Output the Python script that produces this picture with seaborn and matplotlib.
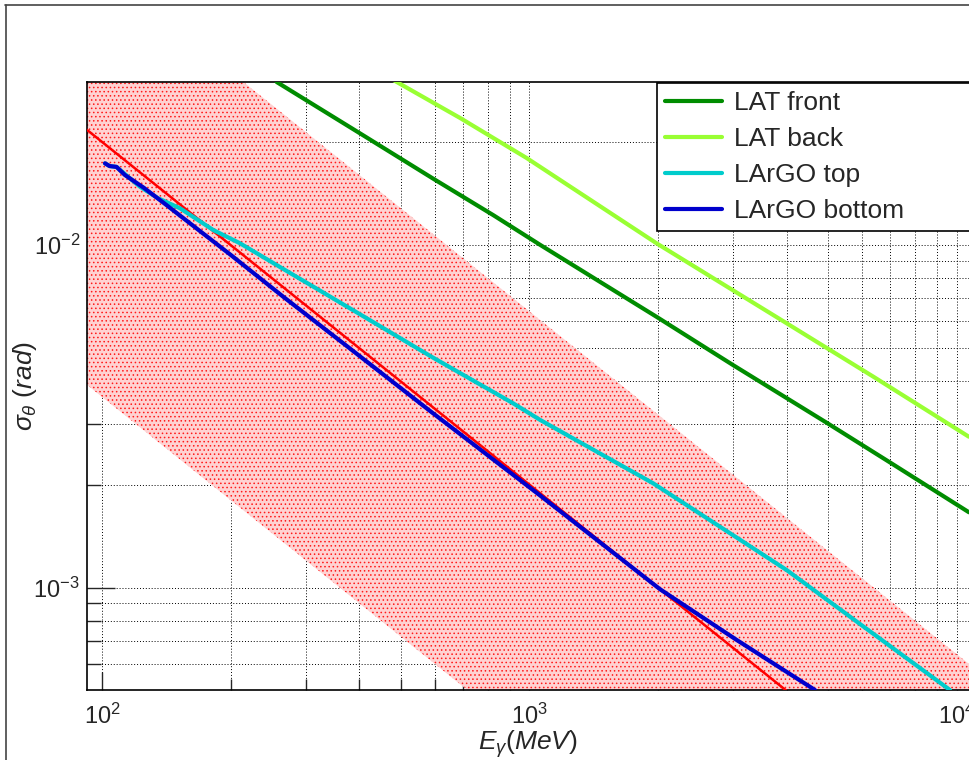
import numpy as np
import pandas as pd
import matplotlib
matplotlib.use("Agg")
import matplotlib.pyplot as plt
import seaborn as sns
from matplotlib.lines import Line2D
from matplotlib.ticker import LogLocator, NullFormatter

# values (energy in MeV, sigma in rad)
lat_front_E = [256, 401, 595, 823, 1058, 1985, 2999, 4962, 6983, 10685]
lat_front_sig = [0.0299, 0.02118, 0.01562, 0.01222, 0.01002, 0.00617,
                 0.00446, 0.00303, 0.00232, 0.00166]

lat_back_E = [480, 688, 985, 1985, 4000, 6379, 10680]
lat_back_sig = [0.0303, 0.02348, 0.01794, 0.01011, 0.00591, 0.00413, 0.002758]

largo_top_E = [101.5, 104, 108, 113, 122.5, 135, 152, 181.9, 210, 275, 301, 401,
               595, 916.5, 1058, 1949, 4000, 5728, 9645]
largo_top_sig = [0.01731, 0.01700, 0.01690, 0.01610, 0.0148, 0.0137, 0.0128,
                 0.01106, 0.01012, 0.00829, 0.00776, 0.00628, 0.00469, 0.00345,
                 0.00309, 0.002016, 0.001126, 0.00081, 0.000503]

largo_bot_E = [101.5, 104, 108, 113, 125, 140, 160, 200, 265, 373, 585, 1058,
               2021, 3055, 4659]
largo_bot_sig = [0.01731, 0.01700, 0.01690, 0.01600, 0.01470, 0.01320, 0.01160,
                 0.00935, 0.00707, 0.00508, 0.00328, 0.00186, 0.00099, 0.000704,
                 0.000503]

# red reference line and shaded band
ref_E = [92, 4000]
ref_sig = [0.0217, 0.0005]
band_E = [90, 11000]
band_low = [0.0040, 3.27e-5]
band_high = [0.0711, 5.82e-4]

series = [
    ("LAT front", lat_front_E, lat_front_sig, "#008c00"),
    ("LAT back", lat_back_E, lat_back_sig, "#99ff33"),
    ("LArGO top", largo_top_E, largo_top_sig, "#00cccc"),
    ("LArGO bottom", largo_bot_E, largo_bot_sig, "#0000cc"),
]

sns.set_style("white")
plt.rcParams["font.family"] = ["Liberation Sans", "DejaVu Sans"]
plt.rcParams["mathtext.fontset"] = "custom"
plt.rcParams["mathtext.rm"] = "Liberation Sans"
plt.rcParams["mathtext.it"] = "Liberation Sans:italic"
plt.rcParams["mathtext.sf"] = "Liberation Sans"
plt.rcParams["hatch.linewidth"] = 0.6

fig = plt.figure(figsize=(9.69, 7.6), dpi=100)
ax = fig.add_axes([87 / 969, 70 / 760, 882 / 969, 608 / 760])

ax.set_xscale("log")
ax.set_yscale("log")

ax.fill_between(band_E, band_low, band_high, facecolor="#ffd2d2",
                edgecolor="#ff1a1a", hatch="....", linewidth=0, zorder=1)

sns.lineplot(x=ref_E, y=ref_sig, ax=ax, color="red", lw=1.8, legend=False, zorder=3)

for name, e, s, c in series:
    df = pd.DataFrame({"E": e, "sigma": s})
    sns.lineplot(data=df, x="E", y="sigma", ax=ax, color=c, lw=3.0,
                 sort=False, estimator=None, label=name, zorder=4)

ax.set_xlim(92.1, 10687)
ax.set_ylim(5.03e-4, 0.0299)

ax.xaxis.set_major_locator(LogLocator(base=10))
ax.xaxis.set_minor_locator(LogLocator(base=10, subs=np.arange(2, 10)))
ax.yaxis.set_major_locator(LogLocator(base=10))
ax.yaxis.set_minor_locator(LogLocator(base=10, subs=np.arange(2, 10)))
ax.xaxis.set_minor_formatter(NullFormatter())
ax.yaxis.set_minor_formatter(NullFormatter())

ax.grid(True, which="both", color="black", linestyle=(0, (1, 2)), linewidth=0.7)

ax.tick_params(axis="x", which="major", direction="in", length=13, width=1,
               labelsize=17, pad=10, top=False, bottom=True)
ax.tick_params(axis="x", which="minor", direction="in", length=8, width=1,
               top=False, bottom=True)
ax.tick_params(axis="y", which="major", direction="in", length=20, width=1,
               labelsize=17, pad=5, left=True, right=False)
ax.tick_params(axis="y", which="minor", direction="in", length=10, width=1,
               left=True, right=False)

for side in ["left", "bottom", "top"]:
    ax.spines[side].set_color("black")
    ax.spines[side].set_linewidth(1.2)
ax.spines["right"].set_visible(False)

ax.set_xlabel(r"$E_{\gamma}(MeV)$", fontsize=19, va="center")
ax.set_ylabel(r"$\sigma_{\theta}\ (rad)$", fontsize=19, va="center")
ax.xaxis.set_label_coords(0.5, -0.089)
ax.yaxis.set_label_coords(-0.07, 0.5)

leg = ax.legend(loc="upper left", bbox_to_anchor=(0.646, 0.0, 0.45, 0.9985),
                mode="expand", fontsize=19, frameon=True, fancybox=False,
                framealpha=1, edgecolor="black", handlelength=2.16,
                handletextpad=0.45, labelspacing=0.46, borderpad=0.3,
                borderaxespad=0)
leg.get_frame().set_linewidth(1.2)
for h in leg.get_lines():
    h.set_linewidth(3.0)

# canvas border
fig.add_artist(Line2D([5 / 969, 1], [1 - 5 / 760, 1 - 5 / 760],
                      transform=fig.transFigure, color="#444444", lw=1.2))
fig.add_artist(Line2D([5.5 / 969, 5.5 / 969], [0, 1 - 5 / 760],
                      transform=fig.transFigure, color="#444444", lw=1.2))

fig.savefig("out.png", dpi=100)
